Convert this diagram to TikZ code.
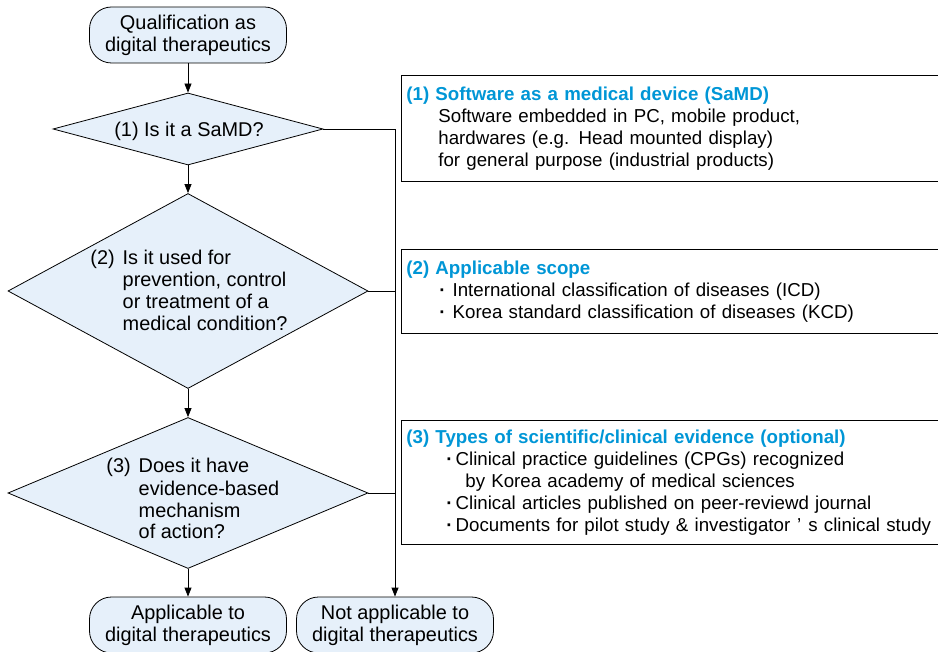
\documentclass[tikz,border=0pt]{standalone}
\usepackage{fontspec}
\setmainfont{Liberation Sans}
\usetikzlibrary{shapes.geometric,arrows.meta}
\definecolor{boxfill}{RGB}{230,240,250}
\definecolor{headblue}{RGB}{0,150,214}
\newcommand{\dotmark}{{\bfseries ·}}
\begin{document}
\begin{tikzpicture}
  [x=1pt,y=-1pt,line width=0.8pt,
   every node/.style={font=\fontsize{19.9}{22}\selectfont},
   term/.style={draw,fill=boxfill,rounded corners=22pt,minimum width=197pt,minimum height=56pt,align=center,inner sep=0pt},
   decision/.style={draw,fill=boxfill,diamond,inner sep=0pt},
   question/.style={inner sep=0pt,anchor=base west},
   infobox/.style={draw,anchor=north west,align=left,text width=560pt,inner sep=5pt,font=\fontsize{18.7}{22}\selectfont},
   arr/.style={-{Triangle[width=7pt,length=9pt]}}]
  \useasboundingbox (0,0) rectangle (938,652);

  % flow chart
  \node[term] (start) at (188,35) {Qualification as\\digital therapeutics};
  \node[decision,minimum width=270pt,minimum height=72pt]  (d1) at (188,129) {};
  \node[decision,minimum width=360pt,minimum height=195pt] (d2) at (188,291) {};
  \node[decision,minimum width=360pt,minimum height=151pt] (d3) at (188,493) {};
  \node[term] (yes) at (188,625) {Applicable to\\digital therapeutics};
  \node[term] (no)  at (395,625) {Not applicable to\\digital therapeutics};

  \node[inner sep=0pt,anchor=base] (q1) at (189,137) {(1) Is it a SaMD?};
  \node[question] (q2) at (90,265)
    {\begin{tabular}[t]{@{}l@{\hspace{8pt}}l@{}}(2) & Is it used for\\ & prevention, control\\ & or treatment of a\\ & medical condition?\end{tabular}};
  \node[question] (q3) at (106,473)
    {\begin{tabular}[t]{@{}l@{\hspace{8pt}}l@{}}(3) & Does it have\\ & evidence-based\\ & mechanism\\ & of action?\end{tabular}};

  \foreach \from/\to in {start/d1,d1/d2,d2/d3,d3/yes}
    \draw[arr] (\from) -- (\to);
  \draw[arr] (d1.east) -| (no.north);
  \draw (d2.east) -- (d2.east -| no.north);
  \draw (d3.east) -- (d3.east -| no.north);

  % criteria
  \node[infobox,minimum height=106pt] (samd) at (401,75)
    {{\color{headblue}\bfseries (1) Software as a medical device (SaMD)}\\
     \hspace*{32pt}Software embedded in PC, mobile product,\\
     \hspace*{32pt}hardwares (e.g. Head mounted display)\\
     \hspace*{32pt}for general purpose (industrial products)};
  \node[infobox,minimum height=84pt] (scope) at (401,249)
    {{\color{headblue}\bfseries (2) Applicable scope}\\
     \hspace*{33pt}\dotmark\hspace{7pt}International classification of diseases (ICD)\\
     \hspace*{33pt}\dotmark\hspace{7pt}Korea standard classification of diseases (KCD)};
  \node[infobox,minimum height=124pt] (evid) at (401,420)
    {{\color{headblue}\bfseries (3) Types of scientific/clinical evidence (optional)}\\
     \hspace*{40pt}\dotmark\hspace{3pt}Clinical practice guidelines (CPGs) recognized\\
     \hspace*{59pt}by Korea academy of medical sciences\\
     \hspace*{40pt}\dotmark\hspace{3pt}Clinical articles published on peer-reviewd journal\\
     \hspace*{40pt}\dotmark\hspace{3pt}Documents for pilot study \& investigator\hspace{7pt}’\hspace{7pt}s clinical study};
\end{tikzpicture}
\end{document}
